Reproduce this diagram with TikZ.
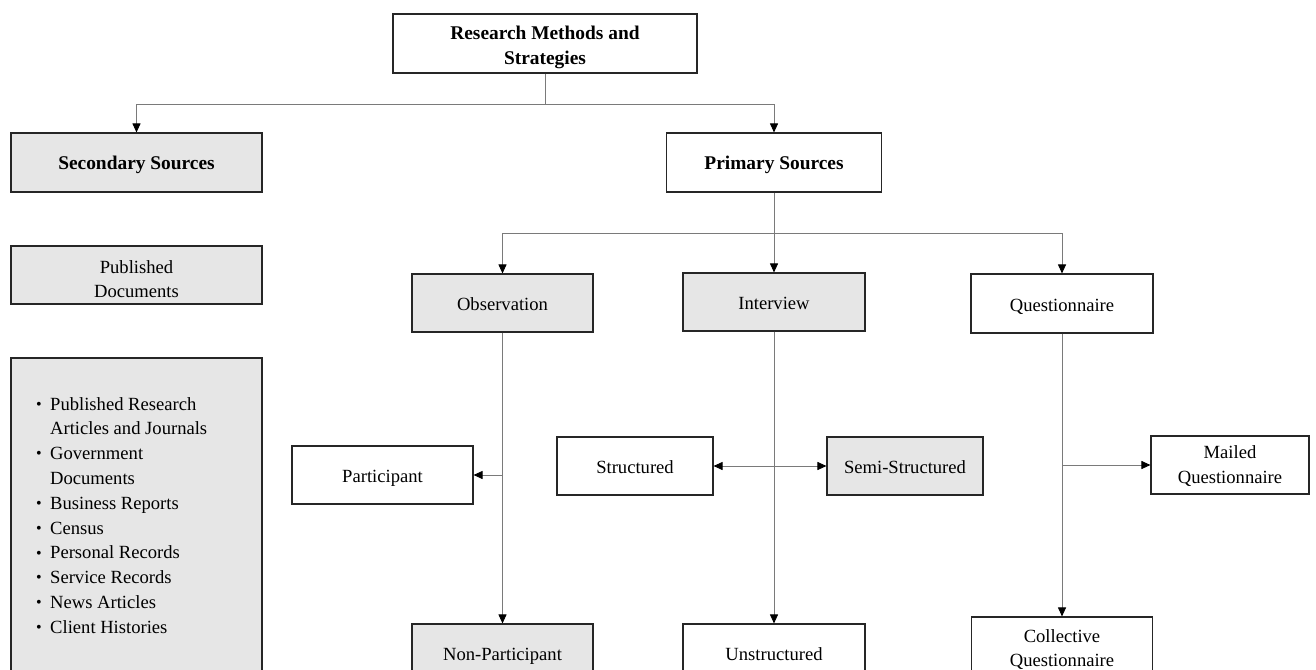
\documentclass[tikz,border=0pt]{standalone}
\usepackage{fontspec}
\setmainfont{Liberation Serif}
\usetikzlibrary{arrows.meta}
\definecolor{boxgray}{HTML}{E6E6E6}
\definecolor{linegray}{HTML}{7A7A7A}
\newcommand{\bodyfont}{\fontsize{18.6}{24.5}\selectfont}
% line struts: keep text lines the same height, as a word processor does
\newcommand{\ls}{\rule[-4pt]{0pt}{23pt}}
\newcommand{\firstline}[1][21pt]{\rule{0pt}{#1}}
\newcommand{\bulletmark}{\raisebox{0.8pt}{\fontsize{16}{16}\selectfont\textbullet}}
\newcommand{\itm}[1]{\makebox[14pt][l]{\bulletmark}#1}
\newcommand{\cont}[1]{\makebox[14pt][l]{}#1}
\tikzset{
  box/.style={draw=black!85, line width=1.1pt, inner sep=0pt, align=center,
              font=\bodyfont, execute at begin node=\ls},
  shaded/.style={box, fill=boxgray},
  plain/.style={box, fill=white},
  heading/.style={font=\fontsize{19.4}{24.5}\selectfont\bfseries},
  conn/.style={draw=linegray, line width=0.9pt},
  tip/.tip={Triangle[length=9pt,width=8pt,color=black]},
  arr/.style={conn, -tip},
  darr/.style={conn, tip-tip},
}
\begin{document}
\begin{tikzpicture}[x=1pt,y=-1pt]
\useasboundingbox (0,0) rectangle (1316,669);
\clip (0,0) rectangle (1316,669);
\fill[white] (0,0) rectangle (1316,669);

% top level
\node[plain, heading, minimum width=304pt, minimum height=59pt] (rms) at (545,43.5) {\firstline Research Methods and\\\ls Strategies};
\node[shaded, heading, minimum width=251pt, minimum height=59pt] (sec) at (136.5,162.5) {Secondary Sources};
\node[plain, heading, minimum width=215pt, minimum height=59pt] (pri) at (774,162.5) {Primary Sources};

% secondary sources column
\node[shaded, minimum width=251pt, minimum height=58pt] (pub) at (136.5,275) {\firstline[25pt]Published\\\ls Documents};
\node[shaded, minimum width=251pt, minimum height=342pt] (lst) at (136.5,529) {};
\node[anchor=north west, inner sep=0pt, align=left, font=\fontsize{18.6}{24.8}\selectfont] (items) at (36,397)
  {\itm{Published Research}\\
   \cont{Articles and Journals}\\
   \itm{Government}\\
   \cont{Documents}\\
   \itm{Business Reports}\\
   \itm{Census}\\
   \itm{Personal Records}\\
   \itm{Service Records}\\
   \itm{News Articles}\\
   \itm{Client Histories}};

% primary methods
\node[shaded, minimum width=181pt, minimum height=58pt] (obs) at (502.5,303) {Observation};
\node[shaded, minimum width=182pt, minimum height=58pt] (int) at (774,302) {Interview};
\node[plain, minimum width=182pt, minimum height=59pt] (que) at (1062,303.5) {Questionnaire};

% method variants
\node[plain, minimum width=181pt, minimum height=58pt] (par) at (382.5,475) {Participant};
\node[shaded, minimum width=181pt, minimum height=58pt] (nonp) at (502.5,653) {Non-Participant};
\node[plain, minimum width=156pt, minimum height=58pt] (str) at (635,466) {Structured};
\node[shaded, minimum width=156pt, minimum height=58pt] (semi) at (905,466) {Semi-Structured};
\node[plain, minimum width=182pt, minimum height=58pt] (uns) at (774,653) {Unstructured};
\node[plain, minimum width=158pt, minimum height=58pt] (mail) at (1230,465) {\firstline[16pt]Mailed\\\ls Questionnaire};
\node[plain, minimum width=181pt, minimum height=58pt] (col) at (1062,646) {\firstline Collective\\\ls Questionnaire};

% connectors
\coordinate (j0) at (545,104);
\coordinate (j1) at (774,233);
\draw[conn] (rms.south) -- (j0);
\draw[arr] (j0) -| (sec.north);
\draw[arr] (j0) -| (pri.north);
\draw[arr] (pri.south) -- (int.north);
\draw[arr] (j1) -| (obs.north);
\draw[arr] (j1) -| (que.north);

\draw[arr] (obs.south) -- (nonp.north);
\draw[arr] (obs.south |- par.east) -- (par.east);
\draw[arr] (int.south) -- (uns.north);
\draw[darr] (str.east) -- (semi.west);
\draw[arr] (que.south) -- (col.north);
\draw[arr] (que.south |- mail.west) -- (mail.west);
\end{tikzpicture}
\end{document}
